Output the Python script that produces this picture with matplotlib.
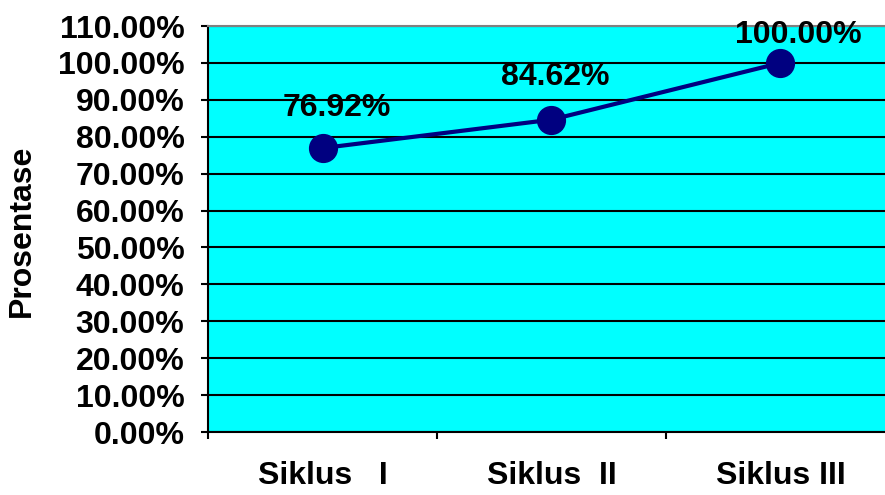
import matplotlib.pyplot as plt

plt.rcParams["font.family"] = ["Liberation Sans", "DejaVu Sans"]
plt.rcParams["font.weight"] = "bold"

categories = ["Siklus   I", "Siklus  II", "Siklus III"]
values = [76.92, 84.62, 100.00]
y_ticks = list(range(0, 111, 10))

# label offsets in points (dx, dy) relative to the marker
label_offsets = [(10, 29), (3, 31), (13, 20)]

navy = "#000080"
fs = 23

fig = plt.figure(figsize=(8.85, 4.95), dpi=100)
ax = fig.add_axes([208 / 885, 63 / 495, 687 / 885, 406 / 495])
ax.set_facecolor("#00FFFF")

x = list(range(1, len(categories) + 1))
ax.plot(x, values, color=navy, lw=3, marker="o", markersize=20,
        markerfacecolor=navy, markeredgecolor=navy, zorder=3)

for xi, v, (dx, dy) in zip(x, values, label_offsets):
    ax.annotate(f"{v:.2f}%", (xi, v), xytext=(dx, dy), textcoords="offset points",
                ha="center", va="center", fontsize=fs, fontweight="bold", zorder=4)

ax.set_xlim(0.5, len(categories) + 0.5)
ax.set_ylim(0, 110)
ax.set_yticks(y_ticks)
ax.set_yticklabels([f"{t:.2f}%" for t in y_ticks], fontsize=fs, fontweight="bold")
ax.yaxis.grid(True, color="black", lw=1.5)
ax.set_axisbelow(True)

ax.set_xticks(x)
ax.set_xticklabels(categories, fontsize=fs, fontweight="bold")
ax.set_xticks([i + 0.5 for i in range(len(categories) + 1)], minor=True)
ax.tick_params(axis="x", which="major", length=0, pad=21)
ax.tick_params(axis="x", which="minor", length=5, width=1.5, direction="out")
ax.tick_params(axis="y", length=5, width=1.5, direction="out", pad=12)

for s in ["left", "bottom"]:
    ax.spines[s].set_color("black")
    ax.spines[s].set_linewidth(1.5)
ax.spines["top"].set_color("#808080")
ax.spines["top"].set_linewidth(1.5)
ax.spines["right"].set_visible(False)

fig.text(22 / 885, 1 - 231 / 495, "Prosentase", rotation=90, ha="center", va="center",
         fontsize=fs, fontweight="bold")

fig.savefig("out.png", dpi=100)
